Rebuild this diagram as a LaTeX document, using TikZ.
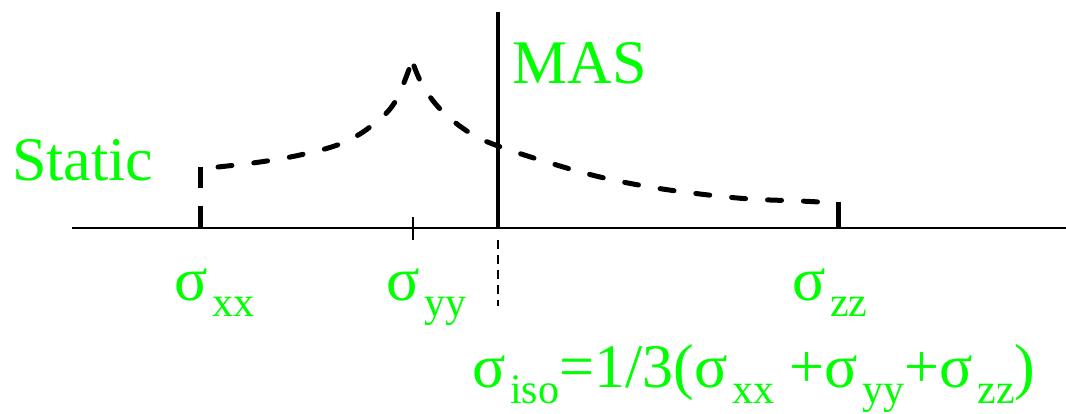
\documentclass[tikz,border=0pt]{standalone}
\usepackage{fontspec}
\setmainfont{Liberation Serif}
\definecolor{lbl}{RGB}{0,255,0}
\newcommand{\sgm}[1]{\makebox[38pt][l]{σ}\raisebox{-16pt}{\fontsize{42}{42}\selectfont #1}}
\begin{document}
\begin{tikzpicture}[x=1pt,y=-1pt,
  lab/.style={anchor=base west,inner sep=0pt,text=lbl,font=\fontsize{62}{70}\selectfont},
  curve/.style={line width=5pt,line cap=round,dash pattern=on 14pt off 22pt},
  axis/.style={line width=2.6pt}]
\useasboundingbox (0,0) rectangle (1066,413);
% axis
\draw[axis] (72,228) -- (1066,228);
% MAS line
\draw[line width=4.5pt] (498,12) -- (498,228);
% thin dashed below MAS
\draw[line width=2pt,dash pattern=on 9pt off 6pt] (498,240) -- (498,306);
% tick at sigma_yy
\draw[line width=2pt] (413,217) -- (413,240);
% left vertical dashed
\draw[line width=5pt,dash pattern=on 22pt off 18pt] (200,228) -- (200,167);
% right vertical
\draw[line width=5pt] (838,202) -- (838,228);
% curve
\draw[curve] plot[smooth,tension=0.6] coordinates {(218,167) (260,162) (300,155) (340,144) (370,127) (395,102) (413,58)};
\draw[curve] plot[smooth,tension=0.6] coordinates {(414,66) (424,88) (443,112) (470,133) (498,146) (550,163) (600,177) (650,187) (700,194) (750,199) (800,201) (838,203)};
% labels
\node[lab] (static) at (12,180) {Static};
\node[lab] (mas) at (512,83) {MAS};
\node[lab] (sxx) at (174,300) {\sgm{xx}};
\node[lab] (syy) at (386,300) {\sgm{yy}};
\node[lab] (szz) at (792,300) {\sgm{zz}};
\node[lab] (siso) at (472,387) {\sgm{iso}=1/3(\sgm{xx}\ +\sgm{yy}+\sgm{zz})};
\end{tikzpicture}
\end{document}
